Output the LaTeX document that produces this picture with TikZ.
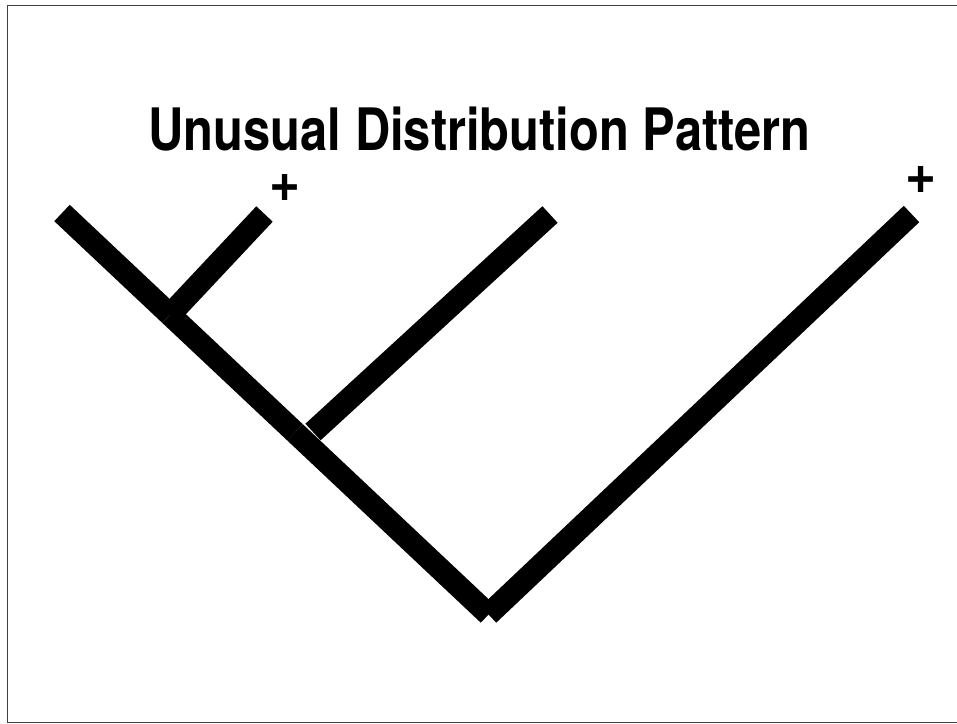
\documentclass[tikz,border=0pt]{standalone}
\usepackage{fontspec}
\setmainfont{TeX Gyre Heros}
\begin{document}
\begin{tikzpicture}[x=1pt,y=-1pt,
  branch/.style={line width=22.5pt, line cap=butt, black},
  frame/.style={draw=black!75, line width=1pt},
  titletext/.style={font=\bfseries\fontsize{58.5}{60}\selectfont, inner sep=0pt},
  plustext/.style={font=\bfseries\fontsize{56}{58}\selectfont, inner sep=0pt}]
\useasboundingbox (0,0) rectangle (957,723);
\draw[frame] (7.5,5.5) rectangle (957.5,722);
% coordinates
\coordinate (L) at (62,213);
\coordinate (J1) at (170,314.7);
\coordinate (J2) at (295,432.3);
\coordinate (B) at (488.5,614.5);
\coordinate (R) at (911.5,214);
\coordinate (S1) at (264.5,214);
\coordinate (S2a) at (313,432);
\coordinate (S2b) at (550,214.5);
% main branches
\draw[branch] (L) -- (J1);
\draw[branch] (J1) -- (J2);
\draw[branch] (J2) -- (B);
\draw[branch] (B) -- (R);
% side branches
\draw[branch] (J1) -- (S1);
\draw[branch] (S2a) -- (S2b);
% texts
\node[titletext, anchor=base] (title) at (479.5,150) {\scalebox{0.835}[1]{Unusual Distribution Pattern}};
\node[plustext] (p1) at (285,188.3) {\scalebox{0.95}[1]{+}};
\node[plustext] (p2) at (920.8,180) {\scalebox{0.95}[1]{+}};
\end{tikzpicture}
\end{document}
